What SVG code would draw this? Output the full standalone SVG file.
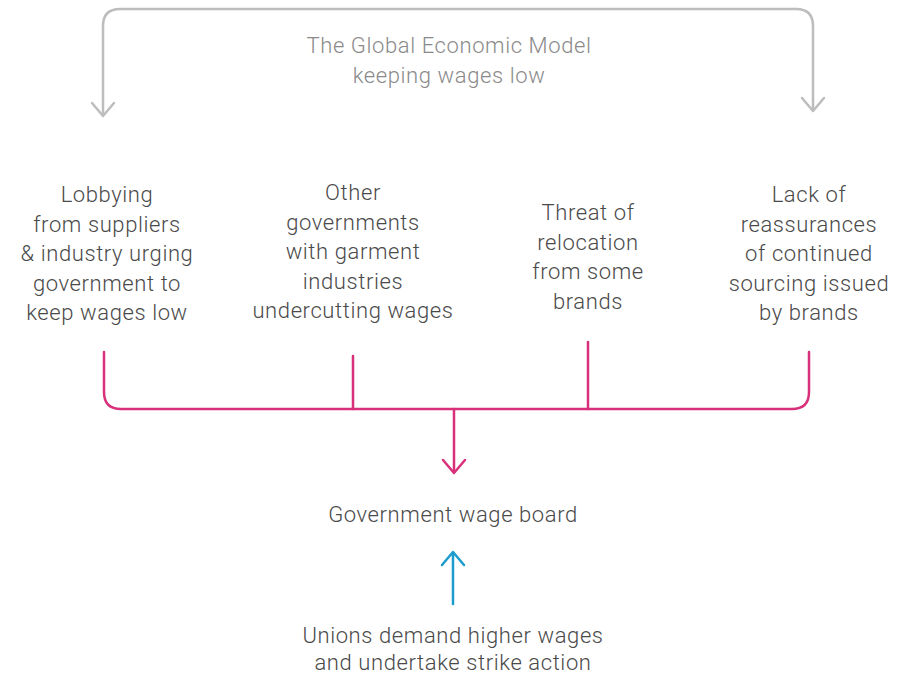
<svg xmlns="http://www.w3.org/2000/svg" width="904" height="675" viewBox="0 0 904 675">
<style>
text{font-family:Roboto,"Open Sans","Liberation Sans",sans-serif;font-weight:300;font-size:22px;letter-spacing:0.6px;fill:#4a4a4a;text-anchor:middle}
.title{fill:#8a8a8a}
.gray{fill:none;stroke:#bdbdbd;stroke-width:2.5;stroke-linecap:round;stroke-linejoin:round}
.mag{fill:none;stroke:#d9307b;stroke-width:2.5;stroke-linecap:round;stroke-linejoin:round}
.blue{fill:none;stroke:#1b9ccc;stroke-width:2.5;stroke-linecap:round;stroke-linejoin:round}
</style>
<g id="connectors">
<path class="gray" d="M103 114 V26 Q103 9 120 9 H796 Q813 9 813 26 V110"/>
<path class="gray" d="M92 103 L103 116 L114 103"/>
<path class="gray" d="M802 98 L813 111 L824 98"/>
<path class="mag" d="M104 352 V392 Q104 409 121 409 H792 Q809 409 809 392 V352"/>
<path class="mag" d="M353 356 V409 M588 342 V409 M454 409 V472"/>
<path class="mag" d="M443 460 L454 473 L465 460"/>
<path class="blue" d="M453 604 V553 M442 565 L453 552 L464 565"/>
</g>
<g id="title"><text class="title" x="449" y="53">The Global Economic Model</text><text class="title" x="449" y="83">keeping wages low</text></g>
<g id="node1"><text x="107" y="202">Lobbying</text><text x="107" y="231.5">from suppliers</text><text x="107" y="261">&amp; industry urging</text><text x="107" y="290.5">government to</text><text x="107" y="320">keep wages low</text></g>
<g id="node2"><text x="353" y="200">Other</text><text x="353" y="229.5">governments</text><text x="353" y="259">with garment</text><text x="353" y="288.5">industries</text><text x="353" y="318">undercutting wages</text></g>
<g id="node3"><text x="588" y="220">Threat of</text><text x="588" y="249.5">relocation</text><text x="588" y="279">from some</text><text x="588" y="308.5">brands</text></g>
<g id="node4"><text x="809" y="202">Lack of</text><text x="809" y="231.5">reassurances</text><text x="809" y="261">of continued</text><text x="809" y="290.5">sourcing issued</text><text x="809" y="320">by brands</text></g>
<g id="board"><text x="453" y="522">Government wage board</text></g>
<g id="unions"><text x="453" y="643">Unions demand higher wages</text><text x="453" y="670">and undertake strike action</text></g>
</svg>
